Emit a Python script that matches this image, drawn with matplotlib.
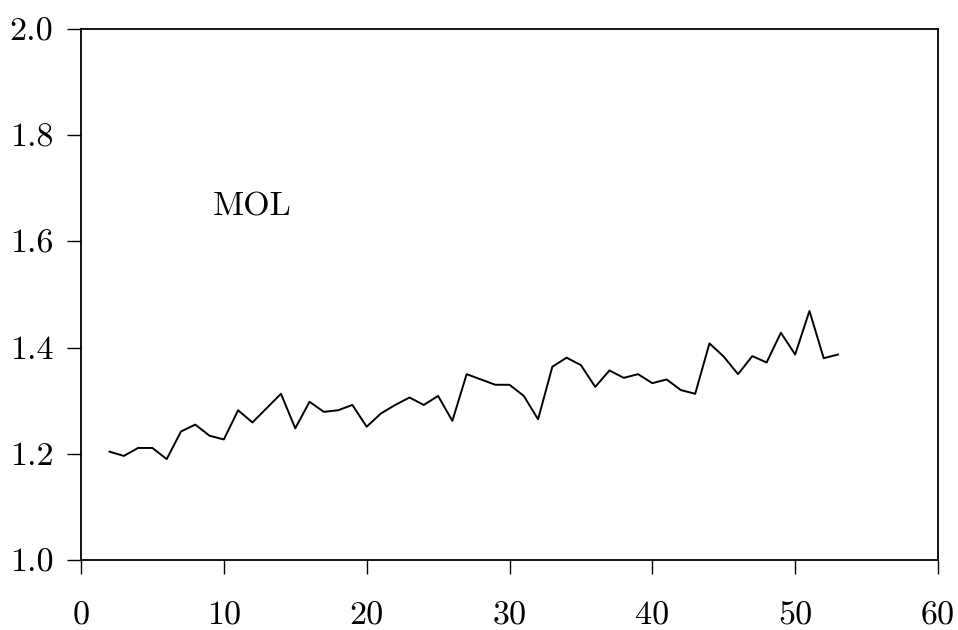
import numpy as np
import matplotlib
matplotlib.use("Agg")
import matplotlib.pyplot as plt

# MOL series, periods 2..53
period = list(range(2, 54))
mol = [1.204, 1.196, 1.211, 1.211, 1.190, 1.242, 1.255, 1.234, 1.227, 1.282,
       1.259, 1.286, 1.313, 1.248, 1.298, 1.279, 1.282, 1.292, 1.251, 1.276,
       1.292, 1.306, 1.292, 1.309, 1.262, 1.350, 1.340, 1.330, 1.330, 1.309,
       1.265, 1.364, 1.381, 1.367, 1.326, 1.357, 1.343, 1.350, 1.333, 1.340,
       1.320, 1.313, 1.408, 1.383, 1.350, 1.384, 1.372, 1.428, 1.387, 1.469,
       1.380, 1.387]
xticks = [0, 10, 20, 30, 40, 50, 60]
yticks = [1.0, 1.2, 1.4, 1.6, 1.8, 2.0]

plt.rcParams.update({"font.family": "serif", "font.serif": ["cmr10"],
                     "axes.formatter.use_mathtext": True, "font.size": 24.5,
                     "mathtext.fontset": "cm"})

fig = plt.figure(figsize=(9.58, 6.30), dpi=100)
ax = fig.add_axes([81 / 958, 70 / 630, 857 / 958, 531 / 630])
ax.plot(period, mol, color="k", lw=1.4)
ax.set_xlim(0, 60); ax.set_ylim(1.0, 2.0)
ax.set_xticks(xticks); ax.set_yticks(yticks)
ax.set_xticklabels([str(t) for t in xticks])
ax.set_yticklabels([f"{t:.1f}" for t in yticks])
ax.tick_params(direction="out", length=10, width=1.0, top=False, right=False)
ax.tick_params(axis="x", pad=20)
ax.tick_params(axis="y", pad=10)
for s in ax.spines.values():
    s.set_linewidth(1.3)
ax.text(9.2, 1.665, "MOL", ha="left", va="center", fontsize=24.5)
fig.savefig("out.png", dpi=100)
